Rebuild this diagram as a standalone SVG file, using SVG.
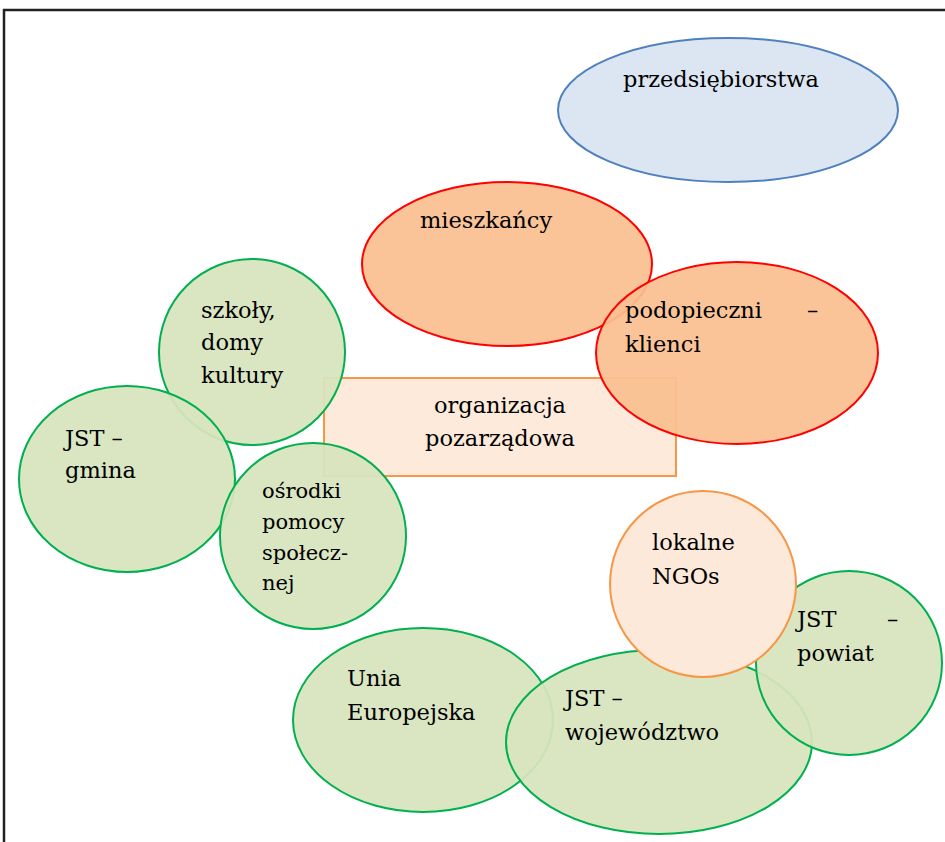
<svg xmlns="http://www.w3.org/2000/svg" width="945" height="842" viewBox="0 0 945 842">
<style>
text{font-family:"DejaVu Serif","Liberation Serif",serif;font-size:22.5px;fill:#000}
.s{font-size:21px}
.g{fill:#d7e4bd;fill-opacity:0.93;stroke:#00b050;stroke-width:2}
.o{fill:#fac090;fill-opacity:0.93;stroke:#ff0000;stroke-width:2}
.b{fill:#dce6f2;stroke:#4f81bd;stroke-width:2}
.p{fill:#fde9d9;fill-opacity:0.95;stroke:#f79646;stroke-width:2}
.frame{fill:none;stroke:#222;stroke-width:2.5}
</style>
<rect width="945" height="842" fill="#fff"/>
<path class="frame" d="M4,842 V10 H945"/>
<g id="przedsiebiorstwa">
<ellipse class="b" cx="728" cy="110" rx="170" ry="72"/>
<text x="623" y="87">przedsiębiorstwa</text>
</g>
<g id="organizacja">
<rect class="p" x="324" y="378" width="352" height="98"/>
<text x="500" y="413" text-anchor="middle">organizacja</text>
<text x="500" y="446" text-anchor="middle">pozarządowa</text>
</g>
<g id="mieszkancy">
<ellipse class="o" cx="507" cy="264" rx="145" ry="82"/>
<text x="420" y="228">mieszkańcy</text>
</g>
<g id="podopieczni">
<ellipse class="o" cx="737" cy="353" rx="141" ry="91"/>
<text x="625" y="318">podopieczni</text>
<text x="807" y="318">–</text>
<text x="625" y="352">klienci</text>
</g>
<g id="szkoly">
<circle class="g" cx="252" cy="352" r="93"/>
<text x="201" y="318">szkoły,</text>
<text x="201" y="350">domy</text>
<text x="201" y="383">kultury</text>
</g>
<g id="gmina">
<ellipse class="g" cx="127" cy="479" rx="108" ry="93"/>
<text x="65" y="446">JST –</text>
<text x="65" y="478">gmina</text>
</g>
<g id="osrodki">
<circle class="g" cx="313" cy="536" r="93"/>
<text class="s" x="262" y="498">ośrodki</text>
<text class="s" x="262" y="529">pomocy</text>
<text class="s" x="262" y="560">społecz-</text>
<text class="s" x="262" y="590">nej</text>
</g>
<g id="unia">
<ellipse class="g" cx="423" cy="720" rx="130" ry="92"/>
<text x="347" y="686">Unia</text>
<text x="347" y="720">Europejska</text>
</g>
<g id="wojewodztwo">
<ellipse class="g" cx="659" cy="742" rx="153" ry="92"/>
<text x="565" y="706">JST –</text>
<text x="565" y="740">województwo</text>
</g>
<g id="powiat">
<ellipse class="g" cx="849" cy="663" rx="93" ry="92"/>
<text x="797" y="627">JST</text>
<text x="887" y="627">–</text>
<text x="797" y="661">powiat</text>
</g>
<g id="lokalne">
<circle class="p" cx="703" cy="584" r="93" style="fill-opacity:1"/>
<text x="652" y="550">lokalne</text>
<text x="652" y="584">NGOs</text>
</g>
<g id="connectors"></g>
</svg>
